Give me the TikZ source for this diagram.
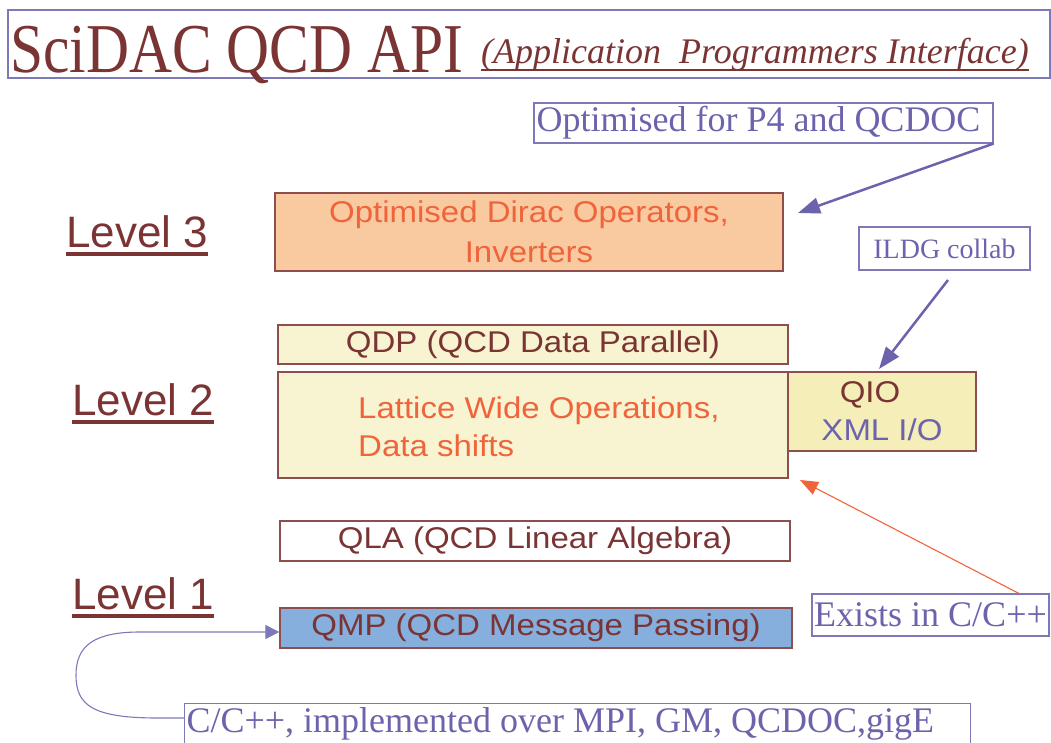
\documentclass[tikz,border=0pt]{standalone}
\usepackage{fontspec}
\setmainfont{Liberation Serif}
\setsansfont{Liberation Sans}
\usetikzlibrary{arrows.meta}
\definecolor{brn}{HTML}{7A3434}
\definecolor{bord}{HTML}{8E4E4E}
\definecolor{pur}{HTML}{6C63AD}
\definecolor{purline}{HTML}{7D78B8}
\definecolor{org}{HTML}{F0643C}
\definecolor{peach}{HTML}{F9C9A0}
\definecolor{ylw}{HTML}{F8F4D2}
\definecolor{qioy}{HTML}{F6EEB8}
\definecolor{blu}{HTML}{86AFDD}
\newcommand{\sx}[1]{\scalebox{1.1}[1]{#1}}
\tikzset{
  layerbox/.style={draw=bord, line width=1.3pt, inner sep=0pt, align=center,
    font=\sffamily\fontsize{30}{38}\selectfont, text=brn},
  notebox/.style={draw=purline, line width=1.1pt, inner sep=2pt, align=center,
    font=\fontsize{36}{38}\selectfont, text=pur},
  lvl/.style={anchor=base west, inner sep=0pt, text=brn, font=\sffamily\fontsize{44}{44}\selectfont},
  lvlline/.style={draw=brn, line width=3.5pt},
  purarrow/.style={draw=pur, line width=2.5pt, -{Triangle[length=22pt,width=16pt]}},
  orgarrow/.style={draw=org, line width=1.1pt, -{Triangle[length=18pt,width=14pt]}},
}
\begin{document}
\begin{tikzpicture}[x=1pt,y=-1pt]
\useasboundingbox (0,0) rectangle (1051,742);
% title
\draw[purline, line width=1.2pt] (8,10) rectangle (1050,78);
\node[anchor=base west, inner sep=0pt, text=brn, font=\fontsize{70}{70}\selectfont] (title) at (10,72) {\scalebox{0.85}[1]{SciDAC QCD API}};
\node[anchor=base west, inner sep=0pt, text=brn, font=\fontsize{36}{36}\selectfont\itshape] (sub) at (481,63) {(Application\ \ Programmers Interface)};
\draw[brn, line width=2pt] (sub.base west |- 0,70) -- (sub.base east |- 0,70);

% levels
\node[lvl] (l3) at (66,247) {Level 3};
\draw[lvlline] (l3.base west |- 0,254) -- (l3.base east |- 0,254);
\node[lvl] (l2) at (72,415) {Level 2};
\draw[lvlline] (l2.base west |- 0,422) -- (l2.base east |- 0,422);
\node[lvl] (l1) at (72,609) {Level 1};
\draw[lvlline] (l1.base west |- 0,616) -- (l1.base east |- 0,616);

% boxes
\node[layerbox, fill=peach, text=org, minimum width=508pt, minimum height=78pt, font=\sffamily\fontsize{30}{40}\selectfont] (dirac) at (529,232) {\sx{Optimised Dirac Operators,}\\\sx{Inverters}};
\node[layerbox, fill=ylw, minimum width=510pt, minimum height=39pt] (qdp) at (533,344.5) {\sx{QDP (QCD Data Parallel)}};
\node[layerbox, fill=ylw, minimum width=510pt, minimum height=106pt] (lat) at (533,425) {};
\node[anchor=west, inner sep=0pt, align=left, text=org, font=\sffamily\fontsize{30}{38}\selectfont] (lattxt) at (358,427) {\sx{Lattice Wide Operations,}\\\sx{Data shifts}};
\node[layerbox, fill=qioy, minimum width=188pt, minimum height=79pt, font=\sffamily\fontsize{30}{38}\selectfont] (qio) at (882,411.5) {\textcolor{brn}{\sx{QIO}}\hspace*{24pt}\\\textcolor{pur}{\sx{XML I/O}}};
\node[layerbox, fill=white, minimum width=510pt, minimum height=40pt] (qla) at (535,541) {\sx{QLA (QCD Linear Algebra)}};
\node[layerbox, fill=blu, minimum width=512pt, minimum height=40pt] (qmp) at (536,628) {\sx{QMP (QCD Message Passing)}};

% notes
\node[notebox, minimum width=459pt, minimum height=40pt] (opt) at (763.5,123) {Optimised for P4 and QCDOC\hspace*{10pt}};
\node[notebox, minimum width=171pt, minimum height=43pt, font=\fontsize{28}{30}\selectfont] (ildg) at (944.5,248.5) {ILDG collab};
\node[notebox, minimum width=237pt, minimum height=42pt, inner sep=0pt] (exists) at (930.5,615) {Exists in C/C++};
\node[notebox, anchor=north west, minimum width=783pt, minimum height=40pt] (cpp) at (184,703) {C/C++, implemented over MPI, GM, QCDOC,gigE\hspace*{34pt}};

% arrows
\coordinate (diracTip) at (798,213);
\coordinate (qioTip) at (879,369);
\coordinate (latTip) at (800,480);
\coordinate (ildgStart) at (948,280);
\coordinate (existsStart) at (1020,594);
\draw[purarrow] (opt.south east) -- (diracTip);
\draw[purarrow] (ildgStart) -- (qioTip);
\draw[orgarrow] (existsStart) -- (latTip);
\draw[draw=purline, line width=1.1pt, -{Triangle[length=14pt,width=14pt]}]
  (cpp.west |- 0,718) -- (158,718) .. controls (92,718) and (76,705) .. (76,675)
  .. controls (76,645) and (95,632) .. (140,632) -- (qmp.west |- 0,632);
\end{tikzpicture}
\end{document}
